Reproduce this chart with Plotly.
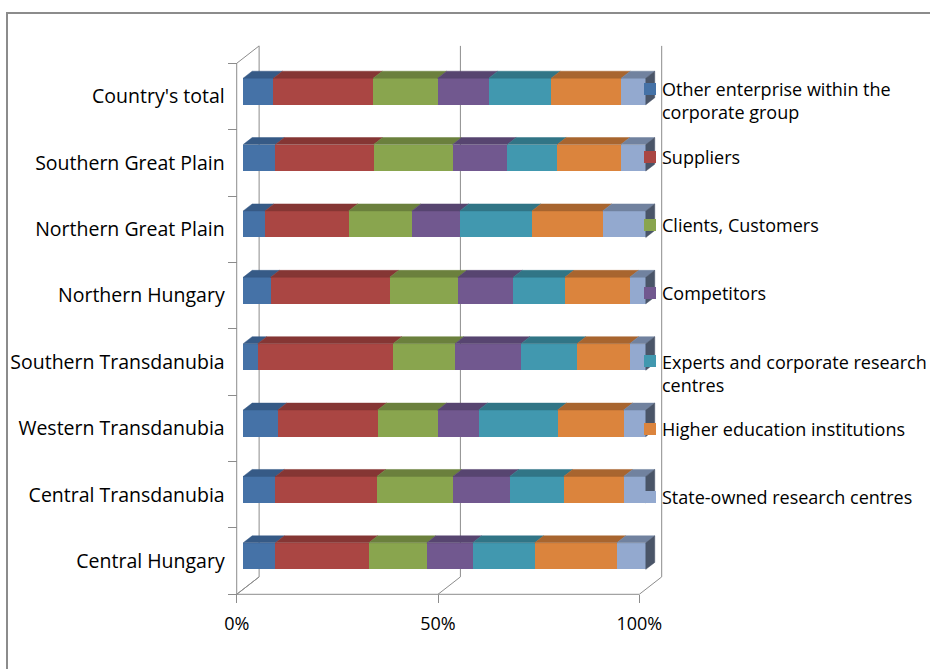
import plotly.graph_objects as go

# ---------------- data (bottom row first) ----------------
categories = ["Central Hungary", "Central Transdanubia", "Western Transdanubia",
              "Southern Transdanubia", "Northern Hungary", "Northern Great Plain",
              "Southern Great Plain", "Country's total"]
series_names = ["Other enterprise within the corporate group", "Suppliers",
                "Clients, Customers", "Competitors",
                "Experts and corporate research centres",
                "Higher education institutions", "State-owned research centres"]
other_enterprise = [8.0, 8.0, 8.6, 3.6, 6.8, 5.4, 8.0, 7.5]
suppliers = [23.2, 25.2, 24.8, 33.6, 29.6, 20.8, 24.4, 24.8]
clients = [14.4, 18.9, 14.9, 15.4, 16.9, 15.7, 19.6, 16.0]
competitors = [11.4, 14.1, 10.2, 16.4, 13.8, 11.9, 13.6, 12.7]
experts = [15.4, 13.4, 19.6, 13.9, 12.8, 17.9, 12.4, 15.5]
higher_education = [20.4, 14.9, 16.4, 13.1, 16.1, 17.6, 15.8, 17.4]
state_owned = [7.2, 5.5, 5.5, 4.0, 4.0, 10.7, 6.2, 6.1]
x_tick_values = [0, 50, 100]
x_tick_labels = ["0%", "50%", "100%"]
legend_labels = ["Other enterprise within the<br>corporate group", "Suppliers",
                 "Clients, Customers", "Competitors",
                 "Experts and corporate research<br>centres",
                 "Higher education institutions", "State-owned research centres"]

series_values = [other_enterprise, suppliers, clients, competitors, experts,
                 higher_education, state_owned]

# ---------------- styles / geometry ----------------
FRONT = ["#4572A7", "#AA4643", "#89A54E", "#71588F", "#4198AF", "#DB843D", "#93A9CF"]
TOP = ["#365A86", "#853634", "#6B803D", "#574570", "#317586", "#A8652F", "#71829F"]
SIDE = "#4A5568"
FRAME = "#8C8C8C"
FONT = "Open Sans"
FS = 18
FS_CAT = 19.5

W, H = 930, 669
ML, PW, MT, PH = 211, 467, 36, 574
MR, MB = W - ML - PW, H - MT - PH
X_RANGE = [-8, 108]
ux = PW / (X_RANGE[1] - X_RANGE[0])
FRAME_TOP_PX, FRAME_BOT_PX = 63.3, 594.3
n = len(categories)
uy = (FRAME_BOT_PX - FRAME_TOP_PX) / n
Y_RANGE = [-0.5 - (MT + PH - FRAME_BOT_PX) / uy, n - 0.5 + (FRAME_TOP_PX - MT) / uy]

DEPTH_X_PX, DEPTH_Y_PX = 22.4, 17.4
BAR_FRONT, BAR_BACK = 0.29, 0.69
BAR_W = 0.4
Dx = DEPTH_X_PX / ux
Dy = DEPTH_Y_PX / uy
f_dx = -BAR_FRONT * Dx          # bar plane -> front frame plane
b_dx = (1 - BAR_FRONT) * Dx     # bar plane -> back wall plane
bd_x = (BAR_BACK - BAR_FRONT) * Dx
bd_y = (BAR_BACK - BAR_FRONT) * Dy

ypos = [i + BAR_FRONT * Dy for i in range(n)]
totals = [sum(s[i] for s in series_values) for i in range(n)]

fig = go.Figure()

# front faces
for name, vals, col in zip(series_names, series_values, FRONT):
    fig.add_trace(go.Bar(y=ypos, x=vals, orientation="h", name=name, width=BAR_W,
                         marker=dict(color=col, line=dict(width=0)),
                         showlegend=False, hoverinfo="x+name"))

# top faces (computed from the normalized stacked values)
cum = [0.0] * n
for k, (vals, col) in enumerate(zip(series_values, TOP)):
    xs, ys = [], []
    for i in range(n):
        x0 = cum[i]
        x1 = cum[i] + vals[i] / totals[i] * 100
        yt = ypos[i] + BAR_W / 2
        xs += [x0, x1, x1 + bd_x, x0 + bd_x, x0, None]
        ys += [yt, yt, yt + bd_y, yt + bd_y, yt, None]
        cum[i] = x1
    fig.add_trace(go.Scatter(x=xs, y=ys, fill="toself", fillcolor=col, mode="lines",
                             line=dict(color=col, width=0.5), hoverinfo="skip",
                             showlegend=False))

# right side faces
xs, ys = [], []
for i in range(n):
    yt, yb = ypos[i] + BAR_W / 2, ypos[i] - BAR_W / 2
    xs += [100, 100 + bd_x, 100 + bd_x, 100, 100, None]
    ys += [yb, yb + bd_y, yt + bd_y, yt, yb, None]
fig.add_trace(go.Scatter(x=xs, y=ys, fill="toself", fillcolor=SIDE, mode="lines",
                         line=dict(color=SIDE, width=0.5), hoverinfo="skip",
                         showlegend=False))

# dummy trace for the floor axis
fig.add_trace(go.Scatter(x=[0, 100], y=[-5, -5], xaxis="x2", mode="markers",
                         marker=dict(opacity=0), hoverinfo="skip", showlegend=False))

# ---------------- frame (walls / floor) ----------------
shapes = []
def seg(x0, y0, x1, y1):
    shapes.append(dict(type="line", xref="x", yref="y", x0=x0, y0=y0, x1=x1, y1=y1,
                       line=dict(color=FRAME, width=1), layer="below"))

y_lo, y_hi = -0.5, n - 0.5
seg(f_dx, y_lo, f_dx, y_hi)                          # left wall front edge
seg(f_dx, y_hi, b_dx, y_hi + Dy)                     # left wall top
seg(f_dx, y_lo, b_dx, y_lo + Dy)                     # left wall bottom
seg(f_dx, y_lo, 100 + f_dx, y_lo)                    # floor front edge
for v in x_tick_values:
    seg(v + b_dx, y_lo + Dy, v + b_dx, y_hi + Dy)    # back wall gridlines
    seg(v + f_dx, y_lo, v + b_dx, y_lo + Dy)         # floor diagonals

# chart border
def px2paper_x(p):
    return (p - ML) / PW
def px2paper_y(p):
    return (MT + PH - p) / PH
shapes.append(dict(type="rect", xref="paper", yref="paper",
                   x0=px2paper_x(7), y0=px2paper_y(676), x1=px2paper_x(940), y1=px2paper_y(13),
                   line=dict(color=FRAME, width=2), fillcolor="rgba(0,0,0,0)", layer="below"))

# legend (manual)
annotations = []
LEG_X, LEG_Y0, LEG_STEP, LEG_SQ = 650, 89, 68, 12
for k, (lab, col) in enumerate(zip(legend_labels, FRONT)):
    cy = LEG_Y0 + LEG_STEP * k
    shapes.append(dict(type="rect", xref="paper", yref="paper",
                       x0=px2paper_x(LEG_X - LEG_SQ / 2), x1=px2paper_x(LEG_X + LEG_SQ / 2),
                       y0=px2paper_y(cy + LEG_SQ / 2), y1=px2paper_y(cy - LEG_SQ / 2),
                       fillcolor=col, line=dict(width=0), layer="above"))
    lines = lab.count("<br>") + 1
    annotations.append(dict(xref="paper", yref="paper", x=px2paper_x(LEG_X + 10),
                            y=px2paper_y(cy + 12 * (lines - 1)), text=lab, showarrow=False,
                            xanchor="left", yanchor="middle", align="left",
                            font=dict(family=FONT, size=FS, color="#000000")))

fig.update_layout(
    width=W, height=H, margin=dict(l=ML, r=MR, t=MT, b=MB, autoexpand=False),
    paper_bgcolor="white", plot_bgcolor="white",
    barmode="stack", barnorm="percent",
    font=dict(family=FONT, size=FS, color="#000000"),
    shapes=shapes, annotations=annotations, showlegend=False,
    xaxis=dict(range=X_RANGE, visible=False, showgrid=False, zeroline=False,
               automargin=False),
    xaxis2=dict(overlaying="x", anchor="free", side="bottom",
                position=(MT + PH - FRAME_BOT_PX) / PH,
                range=[X_RANGE[0] - f_dx, X_RANGE[1] - f_dx],
                tickvals=x_tick_values, ticktext=x_tick_labels,
                ticks="outside", ticklen=8, tickcolor=FRAME, tickwidth=1,
                showgrid=False, zeroline=False, showline=False, automargin=False,
                ticklabelstandoff=5,
                tickfont=dict(family=FONT, size=FS, color="#000000")),
    yaxis=dict(range=Y_RANGE, anchor="free",
               position=(f_dx - X_RANGE[0]) / (X_RANGE[1] - X_RANGE[0]),
               tickvals=list(range(n)), ticktext=categories, ticks="",
               showgrid=False, zeroline=False, showline=False, automargin=False,
               ticklabelstandoff=12,
               minor=dict(tickvals=[k - 0.5 for k in range(n + 1)], ticks="outside",
                          ticklen=9, tickcolor=FRAME, tickwidth=1, showgrid=False),
               tickfont=dict(family=FONT, size=FS_CAT, color="#000000")),
)

fig.write_html("out.html", config={"displayModeBar": False},
               post_script="document.body.style.margin='0';")
